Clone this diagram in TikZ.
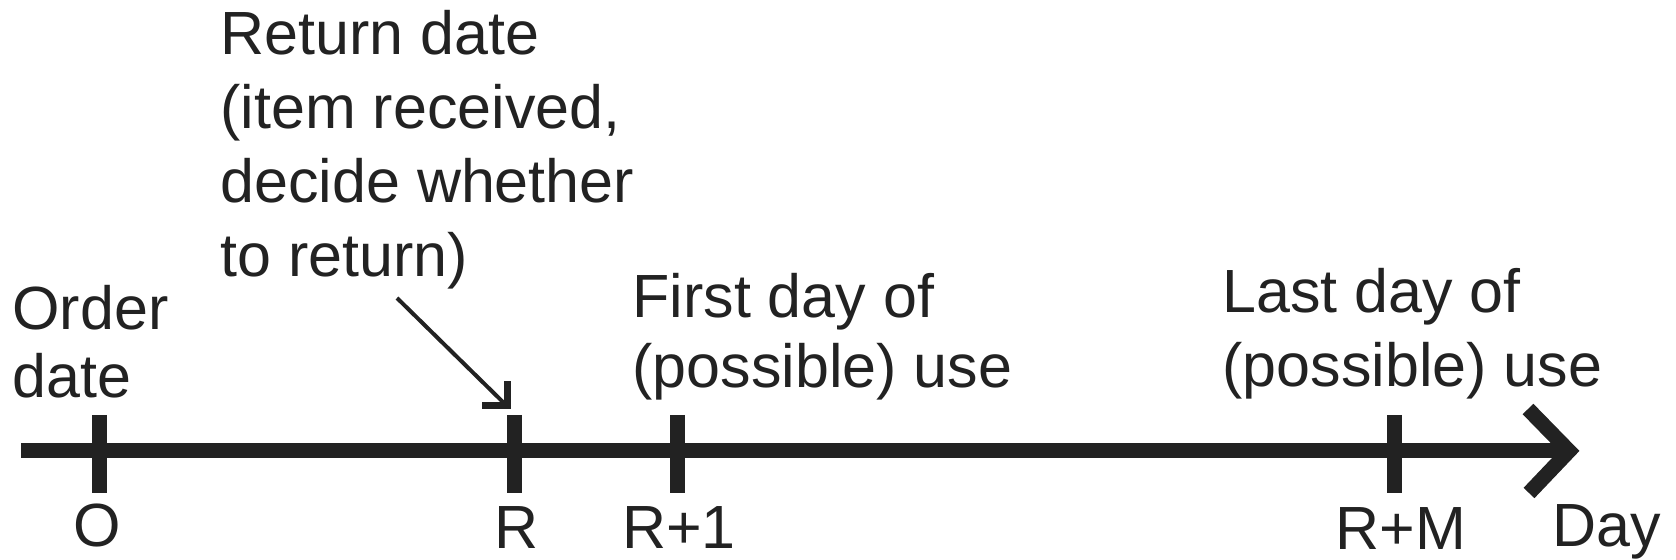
\documentclass[tikz,border=0pt]{standalone}
\usepackage{fontspec}
\setmainfont{Liberation Sans}
\definecolor{inkc}{RGB}{34,34,34}
\begin{document}
\begin{tikzpicture}[x=0.5pt,y=-0.5pt,
  axisline/.style={draw=inkc, line width=7.5pt},
  tickmark/.style={draw=inkc, line width=7.5pt},
  headarm/.style={draw=inkc, line width=7.5pt, line join=miter, miter limit=10},
  pointer/.style={draw=inkc, line width=2pt},
  pointerhead/.style={draw=inkc, line width=3.5pt, line join=miter, miter limit=10},
  lbl/.style={inner sep=0pt, text=inkc, align=left, anchor=base west},
  ticklbl/.style={inner sep=0pt, text=inkc, anchor=base, font=\fontsize{30.5}{36}\selectfont}]
\useasboundingbox (0,0) rectangle (1676,560);

% time axis with open arrowhead
\coordinate (axstart) at (21,451);
\coordinate (axtip) at (1569,451);
\coordinate (armup) at (1528,409);
\coordinate (armdn) at (1529,493);
\draw[axisline] (axstart) -- (axtip);
\draw[headarm] (armup) -- (axtip) -- (armdn);

% tick marks
\foreach \x/\nm in {99/tO, 514.5/tR, 677.5/tRa, 1394/tRM}{
  \coordinate (\nm) at (\x,415);
  \draw[tickmark] (\nm) -- (\x,493);
}

% tick labels
\node[ticklbl] (lO)  at (97,547)   {O};
\node[ticklbl] (lR)  at (517,549)  {R};
\node[ticklbl] (lRa) at (679,549)  {R+1};
\node[ticklbl] (lRM) at (1401,550) {R+M};
\node[ticklbl, anchor=base west] (lDay) at (1552,547) {Day};

% event descriptions (anchored at the baseline of their last line)
\node[lbl, font=\fontsize{30.5}{34}\selectfont] (order) at (12,398) {Order\\date};
\node[lbl, font=\fontsize{30.5}{37}\selectfont] (ret) at (220,277)
  {Return date\\(item received,\\decide whether\\to return)};
\node[lbl, font=\fontsize{30.5}{35}\selectfont] (first) at (632,388) {First day of\\(possible) use};
\node[lbl, font=\fontsize{30.5}{37}\selectfont] (last) at (1222,387) {Last day of\\(possible) use};

% pointer from the return-date text to the R tick
\coordinate (ptail) at (397,298);
\coordinate (phead) at (507,406);
\draw[pointer] (ptail) -- (phead);
\draw[pointerhead] (482,406) -- (phead) -- (507,381);
\end{tikzpicture}
\end{document}
